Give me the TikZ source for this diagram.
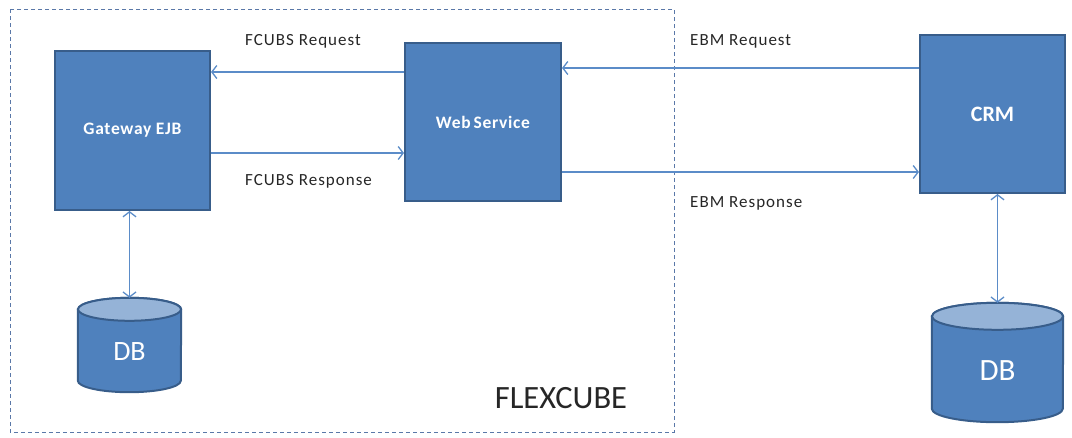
\documentclass[tikz,border=0pt]{standalone}
\usepackage{fontspec}
\setmainfont{Carlito}
\usetikzlibrary{arrows.meta}
\definecolor{boxblue}{HTML}{4F81BD}
\definecolor{boxedge}{HTML}{385D8A}
\definecolor{lineblue}{HTML}{5B8CC8}
\definecolor{toplight}{HTML}{95B3D7}
\definecolor{frameblue}{HTML}{5A78A8}
\newcommand\mycyl[3]{%
  \filldraw[fill=boxblue,draw=boxedge,line width=2pt]
    ([yshift=-#3]#1.north west) -- ([yshift=#3]#1.south west)
    arc[start angle=180,end angle=360,x radius=#2,y radius=#3]
    -- ([yshift=-#3]#1.north east)
    arc[start angle=0,end angle=180,x radius=#2,y radius=#3] -- cycle;
  \filldraw[fill=toplight,draw=boxedge,line width=2pt]
    ([yshift=-#3]#1.north) ellipse[x radius=#2,y radius=#3];
}
\tikzset{
  box/.style={rectangle,fill=boxblue,draw=boxedge,line width=2pt,text=white,inner sep=0pt},
  cylarea/.style={rectangle,inner sep=0pt},
  arr/.style={draw=lineblue,line width=1.3pt,-{Straight Barb[length=5pt,width=13pt]}},
  darr/.style={draw=lineblue,line width=1.3pt,{Straight Barb[length=5pt,width=13pt]}-{Straight Barb[length=5pt,width=13pt]}},
  lbl/.style={anchor=west,inner sep=0pt,font=\fontsize{17}{19}\selectfont\addfontfeatures{LetterSpace=6},text=black!85},
  boxtxt/.style={font=\bfseries\fontsize{17.5}{20}\selectfont\addfontfeatures{LetterSpace=4}},
}
\begin{document}
\begin{tikzpicture}[x=1pt,y=-1pt]
\useasboundingbox (0,0) rectangle (1072,437);
\draw[frameblue,line width=1pt,dash pattern=on 4pt off 3pt] (10,9) rectangle (674,432);
\node[box,minimum width=155pt,minimum height=159pt,boxtxt] (gw) at (132.5,130.5) {Gateway EJB};
\node[box,minimum width=156pt,minimum height=158pt,boxtxt] (ws) at (483,122) {Web\,Service};
\node[box,minimum width=145pt,minimum height=158pt,font=\bfseries\fontsize{22}{24}\selectfont] (crm) at (992.5,114) {CRM};
\node[cylarea,minimum width=103pt,minimum height=94pt] (db1) at (129.5,345) {};
\node[cylarea,minimum width=131pt,minimum height=119pt] (db2) at (997.5,362.5) {};
\mycyl{db1}{51.5pt}{11.5pt}
\mycyl{db2}{65.5pt}{13.5pt}
\node[text=white,font=\fontsize{28}{30}\selectfont] (t1) at ([yshift=-7pt]db1.center) {DB};
\node[text=white,font=\fontsize{31}{33}\selectfont] (t2) at ([yshift=-8pt]db2.center) {DB};
\node[font=\fontsize{32.5}{34}\selectfont,text=black!85] (fx) at (561,398) {FLEXCUBE};
% arrows
\coordinate (r1) at ([yshift=50pt]ws.west);
\draw[arr] (r1) -- (r1 -| gw.east);
\coordinate (r2) at ([yshift=-22.5pt]gw.east);
\draw[arr] (r2) -- (r2 -| ws.west);
\coordinate (r3) at ([yshift=46pt]crm.west);
\draw[arr] (r3) -- (r3 -| ws.east);
\coordinate (r4) at ([yshift=-50pt]ws.east);
\draw[arr] (r4) -- (r4 -| crm.west);
\draw[darr] (db1.north |- gw.south) -- (db1.north);
\draw[darr] (db2.north |- crm.south) -- (db2.north);
% labels
\node[lbl] (l1) at (245,41) {FCUBS Request};
\node[lbl] (l2) at (245,181) {FCUBS Response};
\node[lbl] (l3) at (690,41) {EBM Request};
\node[lbl] (l4) at (690,203) {EBM Response};
\end{tikzpicture}
\end{document}
